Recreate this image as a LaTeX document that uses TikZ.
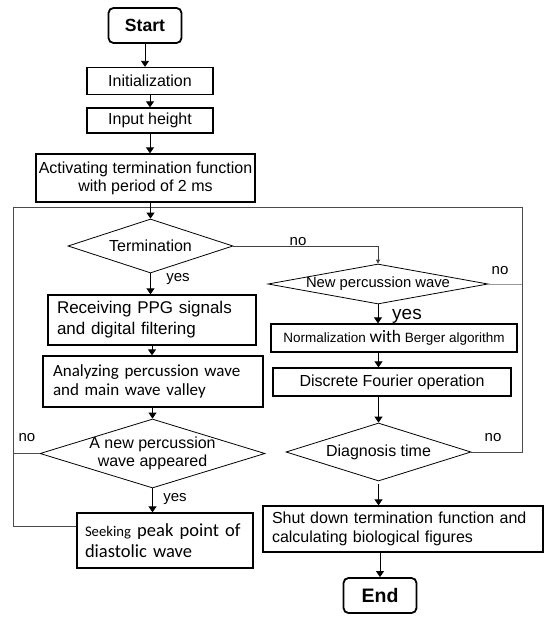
\documentclass[tikz,border=0pt]{standalone}
\usepackage{fontspec}
\setmainfont{Liberation Sans}
\newfontfamily\calibrifont{Carlito}
\usetikzlibrary{shapes.geometric,arrows.meta}

\begin{document}
\begin{tikzpicture}[x=1pt,y=-1pt,
    every node/.style={font=\fontsize{16}{18}\selectfont},
    term/.style={draw, rounded corners=5pt, line width=1.8pt, minimum width=73pt, minimum height=35pt, inner sep=0pt},
    box/.style={draw, line width=1.3pt, inner sep=0pt, align=center},
    lbox/.style={draw, line width=1.3pt, inner ysep=0pt, align=left},
    choice/.style={draw, diamond, line width=0.8pt, inner sep=0pt, align=center},
    arr/.style={line width=0.9pt, -{Triangle[width=8pt,length=6pt]}},
    loopline/.style={line width=0.9pt, black!70},
    lbl/.style={font=\fontsize{15}{17}\selectfont}]
    \useasboundingbox (0,0) rectangle (550,623);
    % left column
    \node[term, font=\fontsize{17.6}{20}\selectfont\bfseries] (start) at (145,25.5) {Start};
    \node[box, minimum width=126pt, minimum height=27pt] (init) at (150,81) {Initialization};
    \node[box, minimum width=126pt, minimum height=25pt] (height) at (150,120.5) {Input height};
    \node[box, minimum width=219pt, minimum height=48pt] (activ) at (145.5,178) {Activating termination function\\with period of 2 ms};
    \node[choice, aspect=3.05, minimum width=165pt, minimum height=54pt] (termin) at (150.5,246) {Termination};
    \node[lbox, inner xsep=9pt, text width=190pt, minimum height=50pt, font=\fontsize{17}{21}\selectfont] (recv) at (152,320) {Receiving PPG signals\\and digital filtering};
    \node[lbox, inner xsep=10pt, text width=200pt, minimum height=51pt, font=\calibrifont\fontsize{17}{18.5}\selectfont] (analyz) at (153,381.5) {Analyzing percussion wave\\and main wave valley};
    \node[choice, aspect=3.26, inner xsep=-2pt, inner ysep=-1pt, minimum width=225pt, minimum height=69pt] (anew) at (152.5,453.5) {A new percussion\\wave appeared};
    \node[lbox, inner xsep=8pt, text width=160pt, minimum height=55pt, font=\calibrifont\fontsize{18.5}{21}\selectfont] (seek) at (165,540.5) {{\fontsize{14.7}{21}\selectfont Seeking} peak point of\\diastolic wave};
    % right column
    \node[choice, aspect=5.5, minimum width=220pt, minimum height=40pt, font=\fontsize{14.8}{16}\selectfont] (npw) at (378,284) {New percussion wave};
    \node[box, minimum width=246pt, minimum height=28pt, font=\fontsize{13.5}{16}\selectfont] (norm) at (394,338) {Normalization {\calibrifont\fontsize{17.5}{16}\selectfont with} Berger algorithm};
    \node[box, minimum width=238pt, minimum height=28pt] (dft) at (392,382) {Discrete Fourier operation};
    \node[choice, aspect=3.19, minimum width=185pt, minimum height=58pt] (diag) at (378.5,452) {Diagnosis time};
    \node[lbox, inner xsep=9pt, text width=262pt, minimum height=46pt, font=\fontsize{16}{19}\selectfont] (shut) at (403,529) {Shut down termination function and\\calculating biological figures};
    \node[term, font=\fontsize{19.5}{22}\selectfont\bfseries] (end) at (380,595.5) {End};
    % labels
    \node[lbl] (no1) at (298,242) {no};
    \node[lbl] (no2) at (500,271) {no};
    \node[lbl] (no3) at (27,438) {no};
    \node[lbl] (no4) at (493,438) {no};
    \node[lbl] (yes1) at (178,279.5) {yes};
    \node[lbl] (yes2) at (175,499.5) {yes};
    \node[font=\fontsize{19}{21}\selectfont] (yes3) at (407,316.5) {yes};
    % loop back
    \coordinate (tl) at (13,207);
    \coordinate (tr) at (522,207);
    \draw[loopline] ([yshift=14.5pt]seek.west) -| (tl) -- (tr) |- (diag.east);
    \draw[loopline] (anew.west) -- (anew.west -| tl);
    \draw[line width=0.9pt, black!40] (npw.east) -- (npw.east -| tr);
    % arrows
    \draw[arr] (start.south) -- (start.south |- init.north);
    \draw[arr] (init) -- (height);
    \draw[arr] (height.south) -- (height.south |- activ.north);
    \draw[arr] (termin.north |- activ.south) -- (termin.north);
    \draw[arr] (termin.south) -- (termin.south |- recv.north);
    \draw[arr] (recv.south) -- (recv.south |- analyz.north);
    \draw[arr] (anew.north |- analyz.south) -- (anew.north);
    \draw[arr] (anew.south) -- (anew.south |- seek.north);
    \draw[line width=0.9pt, black!75, -{Triangle[width=4pt,length=4pt]}] (termin.east) -| (npw.north);
    \draw[arr] (npw.south) -- (npw.south |- norm.north);
    \draw[arr] (diag.north |- norm.south) -- (diag.north |- dft.north);
    \draw[arr] (diag.north |- dft.south) -- (diag.north);
    \draw[arr, shorten <=3pt] (diag.south) -- (diag.south |- shut.north);
    \draw[arr] (end.north |- shut.south) -- (end.north);
\end{tikzpicture}
\end{document}
